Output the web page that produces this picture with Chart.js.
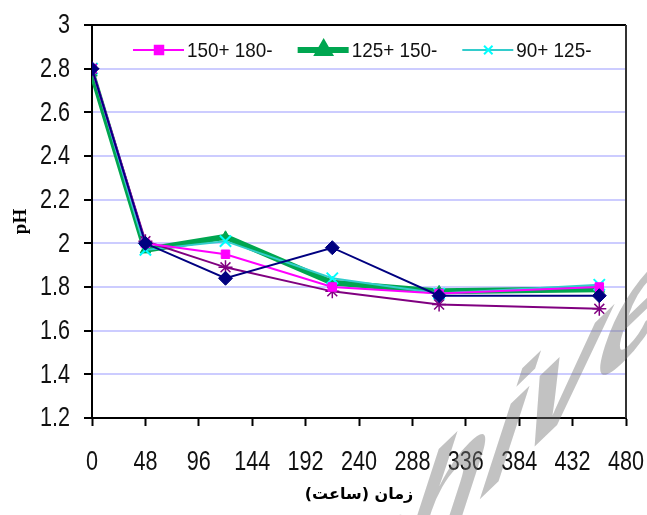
<!DOCTYPE html>
<html>
<head>
<meta charset="utf-8">
<script src="https://cdn.jsdelivr.net/npm/chart.js@4/dist/chart.umd.min.js"></script>
<style>
  body { margin: 0; background: #fff; }
  #wrap { width: 647px; height: 515px; }
</style>
</head>
<body>
<div id="wrap"><canvas id="phChart" width="647" height="515"></canvas></div>
<script>
// time (hours) and pH
var times = [0, 48, 120, 216, 312, 456];
var navyPH    = [2.80, 2.00, 1.84, 1.98, 1.76, 1.76];
var magentaPH = [2.80, 2.00, 1.95, 1.80, 1.77, 1.80];
var greenPH   = [2.78, 1.97, 2.03, 1.82, 1.78, 1.79];
var cyanPH    = [2.80, 1.97, 2.01, 1.84, 1.77, 1.81];
var purplePH  = [2.80, 2.01, 1.89, 1.78, 1.72, 1.70];
var legendNames = ["150+ 180-", "125+ 150-", "90+ 125-"];
var xTicks = [0, 48, 96, 144, 192, 240, 288, 336, 384, 432, 480];
var yTicks = [1.2, 1.4, 1.6, 1.8, 2, 2.2, 2.4, 2.6, 2.8, 3];
var xTitle = "زمان (ساعت)";
var yTitle = "pH";

var sans = "'Liberation Sans', Arial, sans-serif";

function pts(ys) {
	var out = [];
	for (var i in times) { out.push({x: times[i], y: ys[i]}); }
	return out;
}

// draw text squeezed sideways, the original uses a tall narrow face
function narrowText(c, txt, x, y, sx) {
	c.save();
	c.translate(x, y);
	c.scale(sx, 1);
	c.fillText(txt, 0, 0);
	c.restore();
}

// datasets: index 0 draws on top
var datasets = [
	{ label: "", data: pts(navyPH), borderColor: "#000080", backgroundColor: "#000080",
	  borderWidth: 2, pointStyle: "rectRot", pointRadius: 7, pointBorderWidth: 1 },
	{ label: legendNames[0], data: pts(magentaPH), borderColor: "#ff00ff", backgroundColor: "#ff00ff",
	  borderWidth: 2, pointStyle: "rect", pointRadius: 6, pointBorderWidth: 1 },
	{ label: "", data: pts(purplePH), borderColor: "#800080", backgroundColor: "#800080",
	  borderWidth: 2, pointStyle: "star", pointRadius: 7, pointBorderWidth: 1.5 },
	{ label: legendNames[2], data: pts(cyanPH), borderColor: "#33cccc", backgroundColor: "#00ffff",
	  borderWidth: 2, pointStyle: "crossRot", pointRadius: 8, pointBorderWidth: 2, pointBorderColor: "#00ffff" },
	{ label: legendNames[1], data: pts(greenPH), borderColor: "#00a650", backgroundColor: "#00a650",
	  borderWidth: 6, pointStyle: "triangle", pointRadius: 6, pointBorderWidth: 1 }
];

// frame on top and right of plot area
var framePlugin = {
	id: "frame",
	beforeDatasetsDraw: function(chart) {
		var a = chart.chartArea, c = chart.ctx;
		c.save();
		c.strokeStyle = "#000";
		c.lineWidth = 2;
		c.beginPath();
		c.moveTo(a.left, a.top);
		c.lineTo(a.right, a.top);
		c.stroke();
		c.strokeStyle = "#333";
		c.beginPath();
		c.moveTo(a.right, a.top);
		c.lineTo(a.right, a.bottom);
		c.stroke();
		c.restore();
	}
};

// legend drawn inside plot, line + marker like the original
var legendPlugin = {
	id: "inLegend",
	afterDatasetsDraw: function(chart) {
		var a = chart.chartArea, c = chart.ctx;
		var x = a.left + 41, y = a.top + 25;
		c.save();
		c.font = "21px " + sans;
		c.textBaseline = "middle";
		for (var n in legendNames) {
			var ds = null;
			chart.data.datasets.forEach(function(d) { if (d.label === legendNames[n]) ds = d; });
			c.strokeStyle = ds.borderColor;
			c.lineWidth = ds.borderWidth;
			c.beginPath();
			c.moveTo(x, y);
			c.lineTo(x + 51, y);
			c.stroke();
			c.fillStyle = ds.backgroundColor;
			c.strokeStyle = ds.pointBorderColor || ds.borderColor;
			Chart.helpers.drawPoint(c, {pointStyle: ds.pointStyle, radius: Math.min(ds.pointRadius, 6), borderWidth: ds.pointBorderWidth, rotation: 0}, x + 26, y);
			c.fillStyle = "#111";
			c.textAlign = "left";
			narrowText(c, legendNames[n], x + 54, y + 1, 0.9);
			x += 54 + c.measureText(legendNames[n]).width * 0.9 + 25;
		}
		c.restore();
	}
};

// tick labels, placed with the scales
var tickPlugin = {
	id: "tickText",
	afterDraw: function(chart) {
		var c = chart.ctx, a = chart.chartArea;
		var xs = chart.scales.x, ys = chart.scales.y;
		c.save();
		c.font = "27px " + sans;
		c.fillStyle = "#111";
		c.textBaseline = "middle";
		c.textAlign = "right";
		yTicks.forEach(function(v) {
			narrowText(c, String(v), a.left - 22, ys.getPixelForValue(v) + 1, 0.8);
		});
		c.textAlign = "center";
		xTicks.forEach(function(v) {
			narrowText(c, String(v), xs.getPixelForValue(v), a.bottom + 45, 0.8);
		});
		c.restore();
	}
};

// see-through watermark over the picture
var markPlugin = {
	id: "mark",
	afterDraw: function(chart) {
		var c = chart.ctx, S = 190;
		var ua = -44 * Math.PI / 180, wa = -72 * Math.PI / 180;
		var ux = Math.cos(ua), uy = Math.sin(ua), wx = Math.cos(wa), wy = Math.sin(wa);
		c.save();
		c.font = "bold " + S + "px " + sans;
		var xi = c.measureText("Arch").width + c.measureText("i").width / 2;
		var ox = 528 - ux * xi - wx * 0.66 * S, oy = 371 - uy * xi - wy * 0.66 * S;
		c.transform(ux, uy, -wx, -wy, ox, oy);
		c.fillStyle = "rgba(120,120,120,0.45)";
		c.fillText("Archive", 0, 0);
		c.restore();
	}
};

var ctx = document.getElementById("phChart");
var phChart = new Chart(ctx, {
	type: "line",
	data: { datasets: datasets },
	options: {
		responsive: false,
		animation: false,
		layout: { padding: { left: 4, right: 21, top: 25, bottom: 9 } },
		plugins: { legend: { display: false }, tooltip: { enabled: false } },
		scales: {
			x: {
				type: "linear", min: 0, max: 480,
				afterBuildTicks: function(s) { s.ticks = xTicks.map(function(v) { return {value: v}; }); },
				afterFit: function(s) { s.height = 88; },
				grid: { drawOnChartArea: false, drawTicks: true, tickLength: 8, tickColor: "#000", tickWidth: 2 },
				border: { color: "#000", width: 2 },
				ticks: { display: false },
				title: { display: true, text: xTitle, color: "#000", padding: { top: 4, bottom: 2 },
					font: { family: "'DejaVu Sans', sans-serif", size: 16, weight: "bold" } }
			},
			y: {
				min: 1.2, max: 3,
				afterBuildTicks: function(s) { s.ticks = yTicks.map(function(v) { return {value: v}; }); },
				afterFit: function(s) { s.width = 88; },
				grid: { color: "#ccccff", lineWidth: 2, tickLength: 8, tickColor: "#000", tickWidth: 2 },
				border: { color: "#000", width: 2 },
				ticks: { display: false },
				title: { display: true, text: yTitle, color: "#000", padding: { top: 6, bottom: 0 },
					font: { family: "'Liberation Serif', serif", size: 19, weight: "bold" } }
			}
		}
	},
	plugins: [framePlugin, legendPlugin, tickPlugin, markPlugin]
});
</script>
</body>
</html>
